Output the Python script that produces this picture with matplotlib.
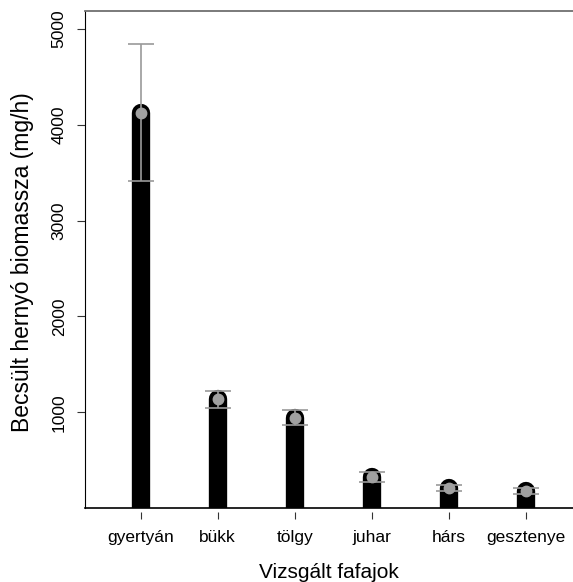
import matplotlib
matplotlib.use("Agg")
import matplotlib.pyplot as plt
import numpy as np

plt.rcParams['font.family'] = ['Liberation Sans', 'DejaVu Sans']

categories = ["gyertyán", "bükk", "tölgy", "juhar", "hárs", "gesztenye"]
means = [4128, 1135, 941, 325, 210, 183]
upper = [4839, 1220, 1025, 377, 241, 214]
lower = [3418, 1043, 868, 270, 183, 151]
yticks = [1000, 2000, 3000, 4000, 5000]

dpi = 100
fig = plt.figure(figsize=(5.73, 5.82), dpi=dpi)
ax = fig.add_axes([0.148, 0.127, 0.852, 0.854])

x = np.arange(1, len(categories) + 1)
m = np.array(means, dtype=float)
lo = np.array(lower, dtype=float)
hi = np.array(upper, dtype=float)

for xi, mi in zip(x, m):
    ax.plot([xi, xi], [0, mi], color='black', lw=13.2, solid_capstyle='round', zorder=2)

ax.errorbar(x, m, yerr=[m - lo, hi - m], fmt='o', color='#a0a0a0', ecolor='#9a9a9a',
            elinewidth=1.2, capsize=9.4, capthick=1.2, markersize=7.5, zorder=3)

ax.set_xlim(0.274, 6.61)
ax.set_ylim(0, 5187)

ax.spines['right'].set_visible(False)
ax.spines['top'].set_color('#707070')
ax.spines['top'].set_linewidth(1.3)
ax.spines['left'].set_color('black')
ax.spines['bottom'].set_position(('outward', 3))
ax.spines['bottom'].set_visible(False)
ax.axhline(0, color='black', lw=1.2, clip_on=False, zorder=4)

ax.set_xticks(x)
ax.set_xticklabels(categories, fontsize=12.5)
ax.set_yticks(yticks)
ax.set_yticklabels([str(v) for v in yticks], fontsize=12.5, rotation=90, va='center')
ax.tick_params(axis='x', length=5, width=0.8, pad=8, color='#333333')
ax.tick_params(axis='y', length=6, width=0.8, pad=7, color='#333333')

ax.set_xlabel("Vizsgált fafajok", fontsize=15, labelpad=13)
ax.set_ylabel("Becsült hernyó biomassza (mg/h)", fontsize=16.5)
ax.yaxis.set_label_coords(-0.104, 0.495)

fig.savefig("out.png", dpi=dpi)
